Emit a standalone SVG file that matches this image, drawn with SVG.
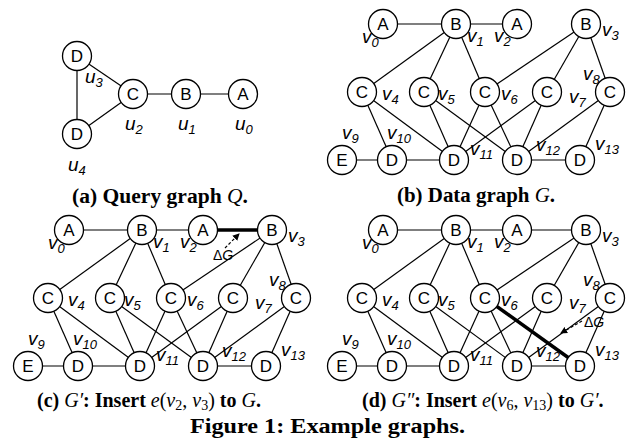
<svg xmlns="http://www.w3.org/2000/svg" width="629" height="441" viewBox="0 0 629 441">
<style>
.bg{fill:#fff}
.nd circle{fill:#fff;stroke:#000;stroke-width:1.3}
.nd text{font-family:"Liberation Sans",Arial,sans-serif;font-size:17px;text-anchor:middle;fill:#000}
.ed line{stroke:#000;stroke-width:1.2}
.ed line.thick{stroke-width:3.5}
.lbl{font-family:"Liberation Sans",Arial,sans-serif;font-style:italic;font-size:19px;fill:#000}
.sub{font-size:13px}
.cap{font-family:"Liberation Serif","Times New Roman",serif;font-weight:bold;font-size:20px;fill:#000}
.m{font-weight:normal;font-style:italic}
.nw{font-weight:normal}
.dg{font-family:"Liberation Sans",Arial,sans-serif;font-size:14px;fill:#000}
.arr{stroke:#000;stroke-width:1.2;stroke-dasharray:3,2;fill:none}
</style>
<defs>
<marker id="ah" markerWidth="8" markerHeight="8" refX="6" refY="4" orient="auto" markerUnits="userSpaceOnUse">
<path d="M0,0.5 L7,4 L0,7.5 Z" fill="#000"/>
</marker>
</defs>
<rect class="bg" width="629" height="441"/>

<!-- (a) Query graph -->
<g id="graphA">
<g id="edgesA" class="ed">
<line x1="77" y1="56" x2="77" y2="134"/>
<line x1="77" y1="56" x2="133" y2="94"/>
<line x1="77" y1="134" x2="133" y2="94"/>
<line x1="133" y1="94" x2="186" y2="94"/>
<line x1="186" y1="94" x2="243" y2="94"/>
</g>
<g class="nd">
<g id="u3"><circle cx="77" cy="56" r="14.5"/><text x="77" y="62">D</text></g>
<g id="u4"><circle cx="77" cy="134" r="14.5"/><text x="77" y="140">D</text></g>
<g id="u2"><circle cx="133" cy="94" r="14.5"/><text x="133" y="100">C</text></g>
<g id="u1"><circle cx="186" cy="94" r="14.5"/><text x="186" y="100">B</text></g>
<g id="u0"><circle cx="243" cy="94" r="14.5"/><text x="243" y="100">A</text></g>
</g>
<g class="lbl">
<text x="85" y="83">u<tspan class="sub" dy="4">3</tspan></text>
<text x="125" y="130">u<tspan class="sub" dy="4">2</tspan></text>
<text x="178" y="130">u<tspan class="sub" dy="4">1</tspan></text>
<text x="235" y="130">u<tspan class="sub" dy="4">0</tspan></text>
<text x="68" y="171">u<tspan class="sub" dy="4">4</tspan></text>
</g>
</g>

<!-- (b) Data graph G -->
<g id="graphB">
<g id="edgesB" class="ed">
<line x1="383" y1="24" x2="456" y2="24"/>
<line x1="456" y1="24" x2="517" y2="24"/>
<line x1="456" y1="24" x2="362" y2="92"/>
<line x1="456" y1="24" x2="424" y2="92"/>
<line x1="456" y1="24" x2="485" y2="92"/>
<line x1="586" y1="24" x2="485" y2="92"/>
<line x1="586" y1="24" x2="547" y2="92"/>
<line x1="586" y1="24" x2="610" y2="92"/>
<line x1="362" y1="92" x2="392" y2="160"/>
<line x1="362" y1="92" x2="454" y2="160"/>
<line x1="424" y1="92" x2="454" y2="160"/>
<line x1="424" y1="92" x2="517" y2="160"/>
<line x1="485" y1="92" x2="454" y2="160"/>
<line x1="485" y1="92" x2="517" y2="160"/>
<line x1="547" y1="92" x2="454" y2="160"/>
<line x1="547" y1="92" x2="517" y2="160"/>
<line x1="610" y1="92" x2="517" y2="160"/>
<line x1="610" y1="92" x2="580" y2="160"/>
<line x1="342" y1="160" x2="392" y2="160"/>
<line x1="392" y1="160" x2="454" y2="160"/>
<line x1="517" y1="160" x2="580" y2="160"/>
</g>
<g class="nd">
<g id="b_v0"><circle cx="383" cy="24" r="14.5"/><text x="383" y="30">A</text></g>
<g id="b_v1"><circle cx="456" cy="24" r="14.5"/><text x="456" y="30">B</text></g>
<g id="b_v2"><circle cx="517" cy="24" r="14.5"/><text x="517" y="30">A</text></g>
<g id="b_v3"><circle cx="586" cy="24" r="14.5"/><text x="586" y="30">B</text></g>
<g id="b_v4"><circle cx="362" cy="92" r="14.5"/><text x="362" y="98">C</text></g>
<g id="b_v5"><circle cx="424" cy="92" r="14.5"/><text x="424" y="98">C</text></g>
<g id="b_v6"><circle cx="485" cy="92" r="14.5"/><text x="485" y="98">C</text></g>
<g id="b_v7"><circle cx="547" cy="92" r="14.5"/><text x="547" y="98">C</text></g>
<g id="b_v8"><circle cx="610" cy="92" r="14.5"/><text x="610" y="98">C</text></g>
<g id="b_v9"><circle cx="342" cy="160" r="14.5"/><text x="342" y="166">E</text></g>
<g id="b_v10"><circle cx="392" cy="160" r="14.5"/><text x="392" y="166">D</text></g>
<g id="b_v11"><circle cx="454" cy="160" r="14.5"/><text x="454" y="166">D</text></g>
<g id="b_v12"><circle cx="517" cy="160" r="14.5"/><text x="517" y="166">D</text></g>
<g id="b_v13"><circle cx="580" cy="160" r="14.5"/><text x="580" y="166">D</text></g>
</g>
<g class="lbl">
<text x="362" y="43">v<tspan class="sub" dy="4">0</tspan></text>
<text x="467" y="42">v<tspan class="sub" dy="4">1</tspan></text>
<text x="494" y="42">v<tspan class="sub" dy="4">2</tspan></text>
<text x="602" y="36">v<tspan class="sub" dy="4">3</tspan></text>
<text x="382" y="100">v<tspan class="sub" dy="4">4</tspan></text>
<text x="438" y="100">v<tspan class="sub" dy="4">5</tspan></text>
<text x="501" y="100">v<tspan class="sub" dy="4">6</tspan></text>
<text x="569" y="103">v<tspan class="sub" dy="4">7</tspan></text>
<text x="583" y="80">v<tspan class="sub" dy="4">8</tspan></text>
<text x="342" y="139">v<tspan class="sub" dy="4">9</tspan></text>
<text x="387" y="139">v<tspan class="sub" dy="4">10</tspan></text>
<text x="470" y="155">v<tspan class="sub" dy="4">11</tspan></text>
<text x="536" y="151">v<tspan class="sub" dy="4">12</tspan></text>
<text x="595" y="150">v<tspan class="sub" dy="4">13</tspan></text>
</g>
</g>

<!-- (c) G' -->
<g id="graphC" transform="translate(-314,206)">
<g id="edgesC" class="ed">
<line x1="383" y1="24" x2="456" y2="24"/>
<line x1="456" y1="24" x2="517" y2="24"/>
<line class="thick" x1="517" y1="24" x2="586" y2="24"/>
<line x1="456" y1="24" x2="362" y2="92"/>
<line x1="456" y1="24" x2="424" y2="92"/>
<line x1="456" y1="24" x2="485" y2="92"/>
<line x1="586" y1="24" x2="485" y2="92"/>
<line x1="586" y1="24" x2="547" y2="92"/>
<line x1="586" y1="24" x2="610" y2="92"/>
<line x1="362" y1="92" x2="392" y2="160"/>
<line x1="362" y1="92" x2="454" y2="160"/>
<line x1="424" y1="92" x2="454" y2="160"/>
<line x1="424" y1="92" x2="517" y2="160"/>
<line x1="485" y1="92" x2="454" y2="160"/>
<line x1="485" y1="92" x2="517" y2="160"/>
<line x1="547" y1="92" x2="454" y2="160"/>
<line x1="547" y1="92" x2="517" y2="160"/>
<line x1="610" y1="92" x2="517" y2="160"/>
<line x1="610" y1="92" x2="580" y2="160"/>
<line x1="342" y1="160" x2="392" y2="160"/>
<line x1="392" y1="160" x2="454" y2="160"/>
<line x1="517" y1="160" x2="580" y2="160"/>
</g>
<g class="nd">
<g id="c_v0"><circle cx="383" cy="24" r="14.5"/><text x="383" y="30">A</text></g>
<g id="c_v1"><circle cx="456" cy="24" r="14.5"/><text x="456" y="30">B</text></g>
<g id="c_v2"><circle cx="517" cy="24" r="14.5"/><text x="517" y="30">A</text></g>
<g id="c_v3"><circle cx="586" cy="24" r="14.5"/><text x="586" y="30">B</text></g>
<g id="c_v4"><circle cx="362" cy="92" r="14.5"/><text x="362" y="98">C</text></g>
<g id="c_v5"><circle cx="424" cy="92" r="14.5"/><text x="424" y="98">C</text></g>
<g id="c_v6"><circle cx="485" cy="92" r="14.5"/><text x="485" y="98">C</text></g>
<g id="c_v7"><circle cx="547" cy="92" r="14.5"/><text x="547" y="98">C</text></g>
<g id="c_v8"><circle cx="610" cy="92" r="14.5"/><text x="610" y="98">C</text></g>
<g id="c_v9"><circle cx="342" cy="160" r="14.5"/><text x="342" y="166">E</text></g>
<g id="c_v10"><circle cx="392" cy="160" r="14.5"/><text x="392" y="166">D</text></g>
<g id="c_v11"><circle cx="454" cy="160" r="14.5"/><text x="454" y="166">D</text></g>
<g id="c_v12"><circle cx="517" cy="160" r="14.5"/><text x="517" y="166">D</text></g>
<g id="c_v13"><circle cx="580" cy="160" r="14.5"/><text x="580" y="166">D</text></g>
</g>
<g class="lbl">
<text x="362" y="43">v<tspan class="sub" dy="4">0</tspan></text>
<text x="467" y="42">v<tspan class="sub" dy="4">1</tspan></text>
<text x="494" y="42">v<tspan class="sub" dy="4">2</tspan></text>
<text x="602" y="36">v<tspan class="sub" dy="4">3</tspan></text>
<text x="382" y="100">v<tspan class="sub" dy="4">4</tspan></text>
<text x="438" y="100">v<tspan class="sub" dy="4">5</tspan></text>
<text x="501" y="100">v<tspan class="sub" dy="4">6</tspan></text>
<text x="569" y="103">v<tspan class="sub" dy="4">7</tspan></text>
<text x="583" y="80">v<tspan class="sub" dy="4">8</tspan></text>
<text x="342" y="139">v<tspan class="sub" dy="4">9</tspan></text>
<text x="387" y="139">v<tspan class="sub" dy="4">10</tspan></text>
<text x="470" y="155">v<tspan class="sub" dy="4">11</tspan></text>
<text x="536" y="151">v<tspan class="sub" dy="4">12</tspan></text>
<text x="595" y="150">v<tspan class="sub" dy="4">13</tspan></text>
</g>
</g>
<g id="deltaC">
<path class="arr" d="M225,248 L239,234" marker-end="url(#ah)"/>
<text class="dg" x="213" y="260">Δ<tspan font-style="italic">G</tspan></text>
</g>

<!-- (d) G'' -->
<g id="graphD" transform="translate(0,206)">
<g id="edgesD" class="ed">
<line x1="383" y1="24" x2="456" y2="24"/>
<line x1="456" y1="24" x2="517" y2="24"/>
<line x1="517" y1="24" x2="586" y2="24"/>
<line class="thick" x1="485" y1="92" x2="580" y2="160"/>
<line x1="456" y1="24" x2="362" y2="92"/>
<line x1="456" y1="24" x2="424" y2="92"/>
<line x1="456" y1="24" x2="485" y2="92"/>
<line x1="586" y1="24" x2="485" y2="92"/>
<line x1="586" y1="24" x2="547" y2="92"/>
<line x1="586" y1="24" x2="610" y2="92"/>
<line x1="362" y1="92" x2="392" y2="160"/>
<line x1="362" y1="92" x2="454" y2="160"/>
<line x1="424" y1="92" x2="454" y2="160"/>
<line x1="424" y1="92" x2="517" y2="160"/>
<line x1="485" y1="92" x2="454" y2="160"/>
<line x1="485" y1="92" x2="517" y2="160"/>
<line x1="547" y1="92" x2="454" y2="160"/>
<line x1="547" y1="92" x2="517" y2="160"/>
<line x1="610" y1="92" x2="517" y2="160"/>
<line x1="610" y1="92" x2="580" y2="160"/>
<line x1="342" y1="160" x2="392" y2="160"/>
<line x1="392" y1="160" x2="454" y2="160"/>
<line x1="517" y1="160" x2="580" y2="160"/>
</g>
<g class="nd">
<g id="d_v0"><circle cx="383" cy="24" r="14.5"/><text x="383" y="30">A</text></g>
<g id="d_v1"><circle cx="456" cy="24" r="14.5"/><text x="456" y="30">B</text></g>
<g id="d_v2"><circle cx="517" cy="24" r="14.5"/><text x="517" y="30">A</text></g>
<g id="d_v3"><circle cx="586" cy="24" r="14.5"/><text x="586" y="30">B</text></g>
<g id="d_v4"><circle cx="362" cy="92" r="14.5"/><text x="362" y="98">C</text></g>
<g id="d_v5"><circle cx="424" cy="92" r="14.5"/><text x="424" y="98">C</text></g>
<g id="d_v6"><circle cx="485" cy="92" r="14.5"/><text x="485" y="98">C</text></g>
<g id="d_v7"><circle cx="547" cy="92" r="14.5"/><text x="547" y="98">C</text></g>
<g id="d_v8"><circle cx="610" cy="92" r="14.5"/><text x="610" y="98">C</text></g>
<g id="d_v9"><circle cx="342" cy="160" r="14.5"/><text x="342" y="166">E</text></g>
<g id="d_v10"><circle cx="392" cy="160" r="14.5"/><text x="392" y="166">D</text></g>
<g id="d_v11"><circle cx="454" cy="160" r="14.5"/><text x="454" y="166">D</text></g>
<g id="d_v12"><circle cx="517" cy="160" r="14.5"/><text x="517" y="166">D</text></g>
<g id="d_v13"><circle cx="580" cy="160" r="14.5"/><text x="580" y="166">D</text></g>
</g>
<g class="lbl">
<text x="362" y="43">v<tspan class="sub" dy="4">0</tspan></text>
<text x="467" y="42">v<tspan class="sub" dy="4">1</tspan></text>
<text x="494" y="42">v<tspan class="sub" dy="4">2</tspan></text>
<text x="602" y="36">v<tspan class="sub" dy="4">3</tspan></text>
<text x="382" y="100">v<tspan class="sub" dy="4">4</tspan></text>
<text x="438" y="100">v<tspan class="sub" dy="4">5</tspan></text>
<text x="501" y="100">v<tspan class="sub" dy="4">6</tspan></text>
<text x="569" y="103">v<tspan class="sub" dy="4">7</tspan></text>
<text x="583" y="80">v<tspan class="sub" dy="4">8</tspan></text>
<text x="342" y="139">v<tspan class="sub" dy="4">9</tspan></text>
<text x="387" y="139">v<tspan class="sub" dy="4">10</tspan></text>
<text x="470" y="155">v<tspan class="sub" dy="4">11</tspan></text>
<text x="536" y="151">v<tspan class="sub" dy="4">12</tspan></text>
<text x="595" y="150">v<tspan class="sub" dy="4">13</tspan></text>
</g>
</g>
<g id="deltaD">
<path class="arr" d="M582,321 L561,333" marker-end="url(#ah)"/>
<text class="dg" x="584" y="327">Δ<tspan font-style="italic">G</tspan></text>
</g>

<!-- captions -->
<g id="captions">
<text class="cap" x="72" y="203" textLength="176" lengthAdjust="spacingAndGlyphs">(a) Query graph <tspan class="m">Q</tspan>.</text>
<text class="cap" x="397" y="202" textLength="158" lengthAdjust="spacingAndGlyphs">(b) Data graph <tspan class="m">G</tspan>.</text>
<text class="cap" x="37" y="407">(c) <tspan class="m">G′</tspan>: Insert <tspan class="m">e</tspan><tspan class="nw">(</tspan><tspan class="m">v</tspan><tspan class="nw" font-size="14" dy="3">2</tspan><tspan class="nw" dy="-3">, </tspan><tspan class="m">v</tspan><tspan class="nw" font-size="14" dy="3">3</tspan><tspan class="nw" dy="-3">)</tspan> to <tspan class="m">G</tspan>.</text>
<text class="cap" x="362" y="407">(d) <tspan class="m">G″</tspan>: Insert <tspan class="m">e</tspan><tspan class="nw">(</tspan><tspan class="m">v</tspan><tspan class="nw" font-size="14" dy="3">6</tspan><tspan class="nw" dy="-3">, </tspan><tspan class="m">v</tspan><tspan class="nw" font-size="14" dy="3">13</tspan><tspan class="nw" dy="-3">)</tspan> to <tspan class="m">G′</tspan>.</text>
<text class="cap" x="190" y="433" textLength="275" lengthAdjust="spacingAndGlyphs">Figure 1: Example graphs.</text>
</g>
</svg>
